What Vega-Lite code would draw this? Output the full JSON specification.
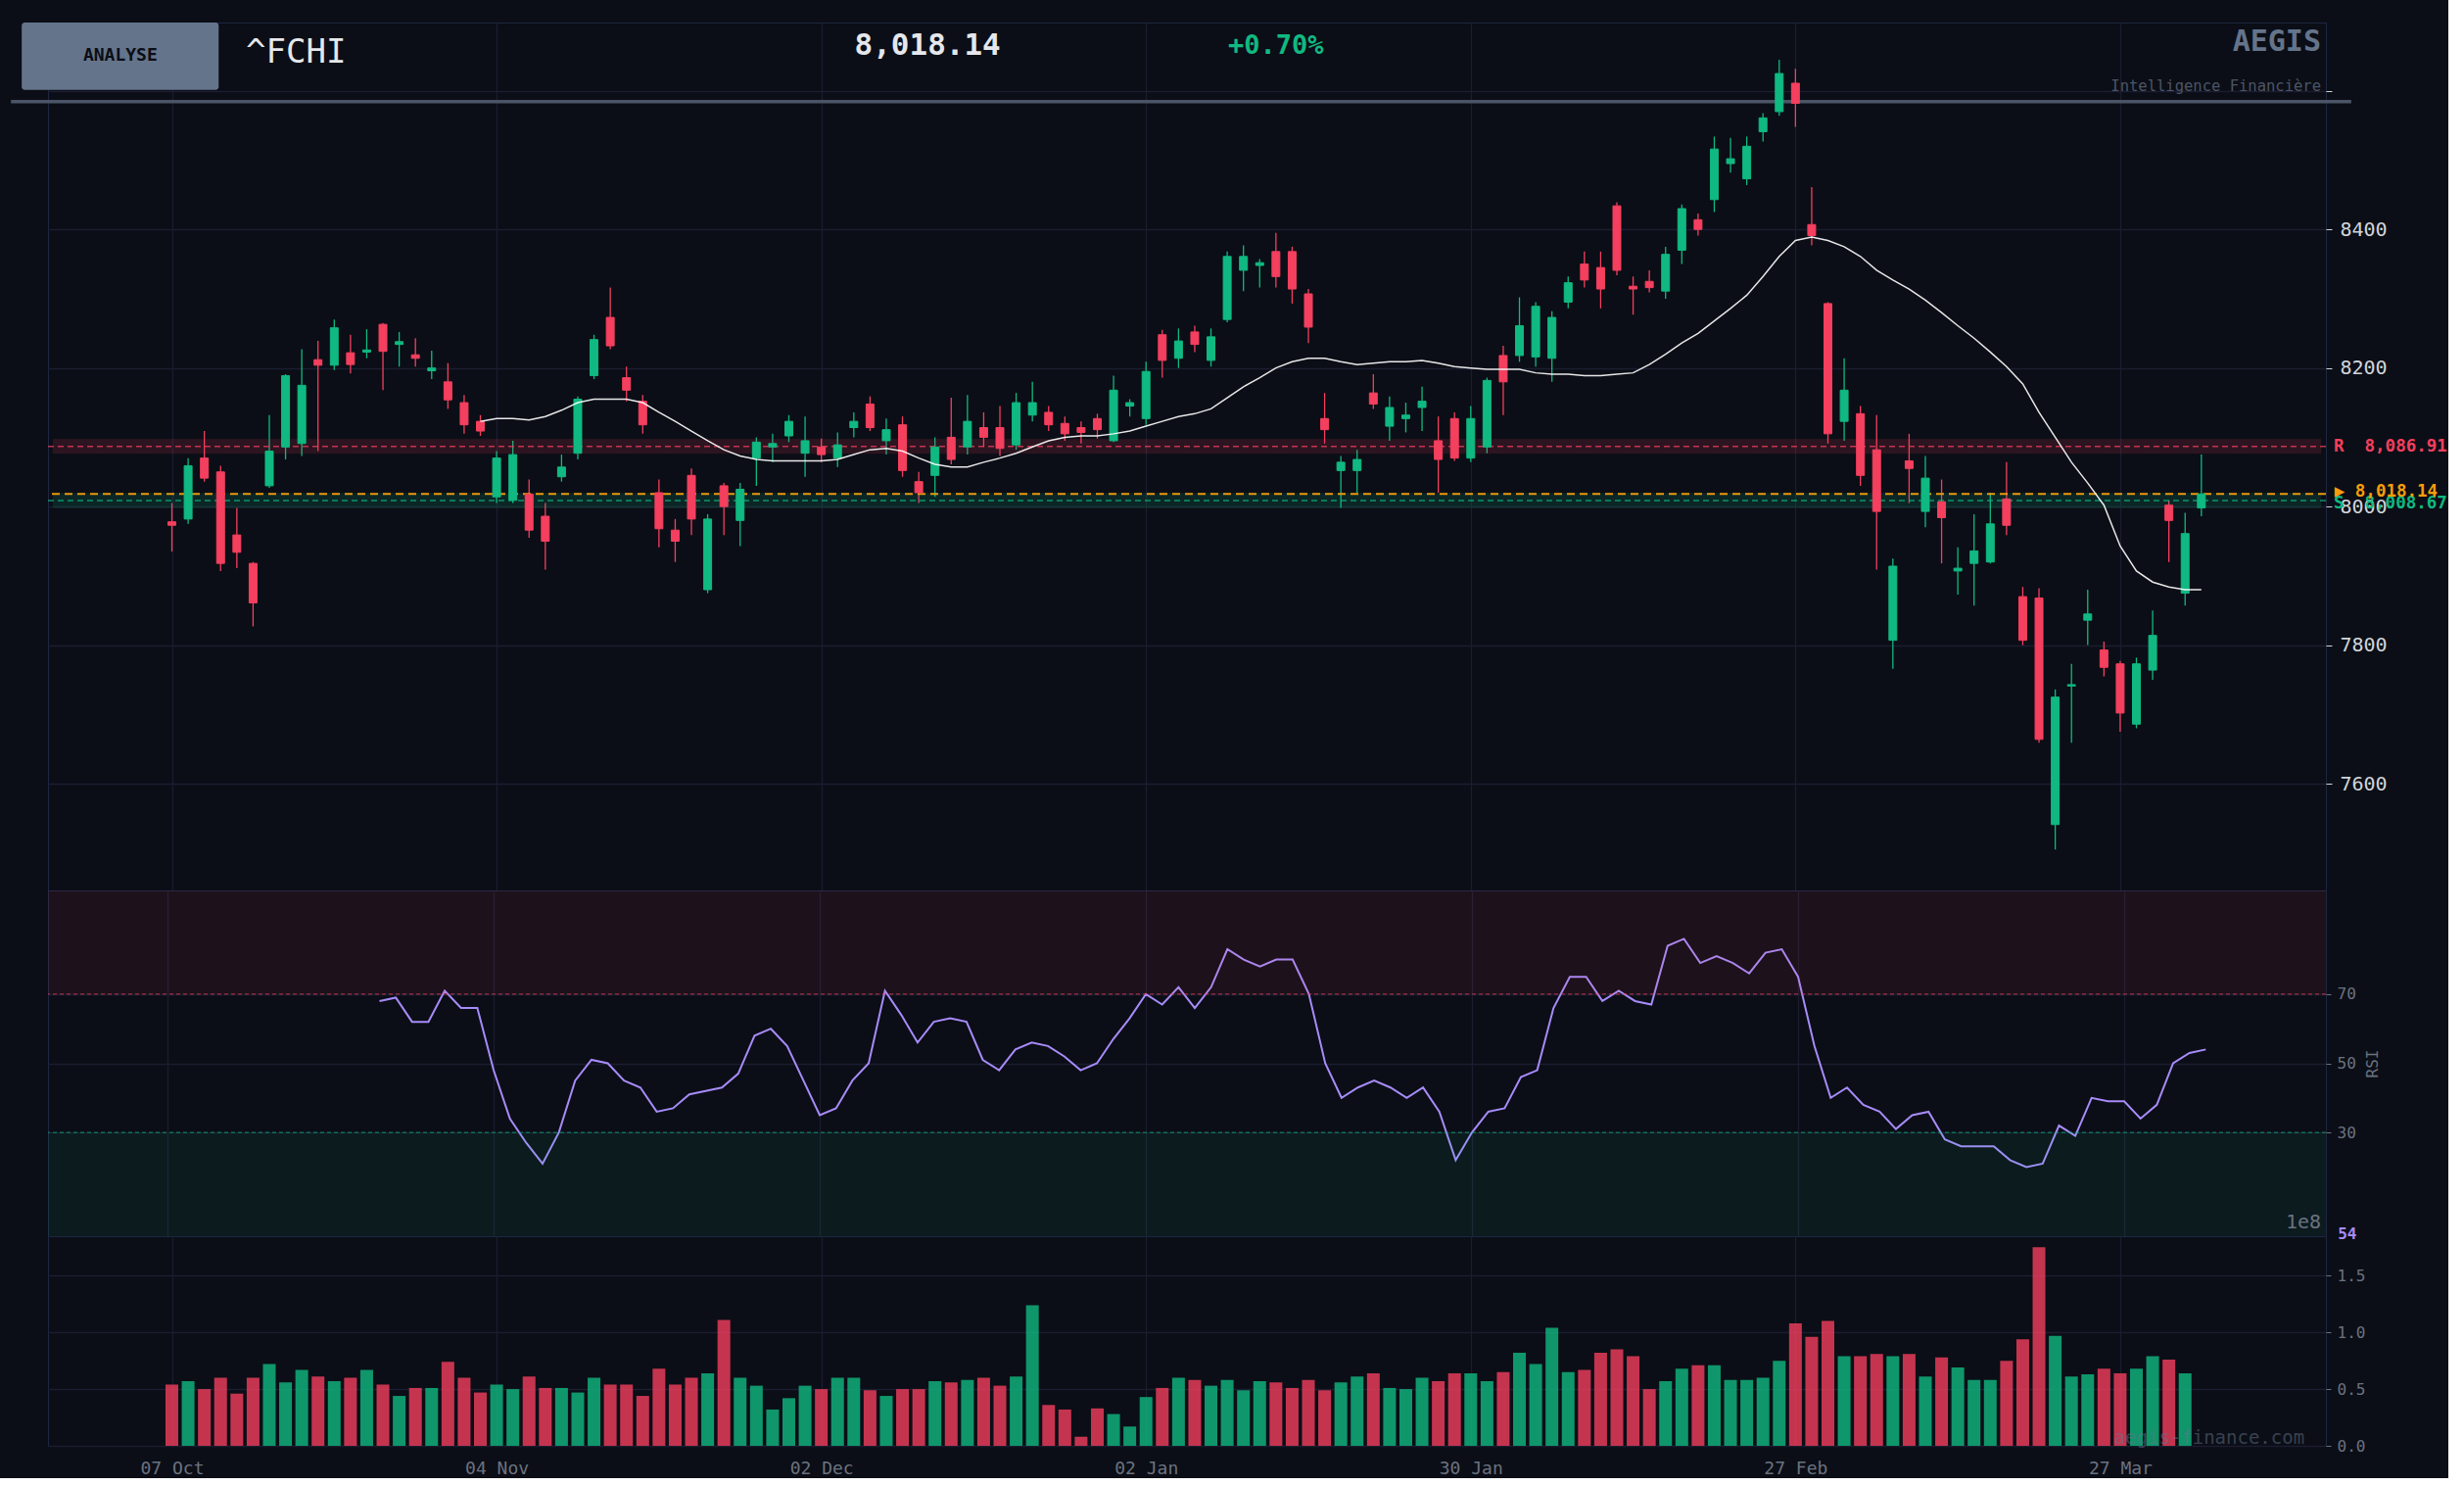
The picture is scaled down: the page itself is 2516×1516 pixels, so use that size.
{
"$schema": "https://vega.github.io/schema/vega-lite/v6.json",
"background": "#0b0e16",
"padding": {"left": 8, "top": 22, "right": 0, "bottom": 0},
"spacing": 0,
"bounds": "flush",
"config": {
  "font": "DejaVu Sans Mono",
  "view": {"stroke": "#1e2742", "fill": "#0b0e16"},
  "axis": {"labelFont": "DejaVu Sans Mono", "titleFont": "DejaVu Sans Mono", "gridColor": "#1b1d30", "gridWidth": 1.3, "domain": false, "tickColor": "#9ca3af"},
  "text": {"font": "DejaVu Sans Mono"}
},
"datasets": {
"ohlc": [
{"i":0,"o":7978,"h":8005,"l":7935,"c":7973,"v":54000000,"ma":null,"rsi":null},
{"i":1,"o":7982,"h":8070,"l":7975,"c":8059,"v":57000000,"ma":null,"rsi":null},
{"i":2,"o":8070,"h":8109,"l":8036,"c":8041,"v":50000000,"ma":null,"rsi":null},
{"i":3,"o":8050,"h":8059,"l":7907,"c":7918,"v":60000000,"ma":null,"rsi":null},
{"i":4,"o":7959,"h":7998,"l":7911,"c":7934,"v":46000000,"ma":null,"rsi":null},
{"i":5,"o":7918,"h":7920,"l":7827,"c":7861,"v":60000000,"ma":null,"rsi":null},
{"i":6,"o":8030,"h":8132,"l":8027,"c":8080,"v":72000000,"ma":null,"rsi":null},
{"i":7,"o":8086,"h":8191,"l":8068,"c":8189,"v":56000000,"ma":null,"rsi":null},
{"i":8,"o":8091,"h":8227,"l":8073,"c":8175,"v":67000000,"ma":null,"rsi":null},
{"i":9,"o":8212,"h":8239,"l":8080,"c":8204,"v":61000000,"ma":null,"rsi":null},
{"i":10,"o":8204,"h":8270,"l":8197,"c":8258,"v":57000000,"ma":null,"rsi":null},
{"i":11,"o":8222,"h":8248,"l":8192,"c":8205,"v":60000000,"ma":null,"rsi":null},
{"i":12,"o":8223,"h":8256,"l":8214,"c":8226,"v":67000000,"ma":null,"rsi":null},
{"i":13,"o":8263,"h":8265,"l":8168,"c":8224,"v":54000000,"ma":null,"rsi":68},
{"i":14,"o":8234,"h":8252,"l":8202,"c":8238,"v":44000000,"ma":null,"rsi":69},
{"i":15,"o":8219,"h":8243,"l":8202,"c":8214,"v":51000000,"ma":null,"rsi":62},
{"i":16,"o":8196,"h":8225,"l":8184,"c":8200,"v":51000000,"ma":null,"rsi":62},
{"i":17,"o":8180,"h":8207,"l":8141,"c":8154,"v":74000000,"ma":null,"rsi":71},
{"i":18,"o":8150,"h":8161,"l":8105,"c":8118,"v":60000000,"ma":null,"rsi":66},
{"i":19,"o":8123,"h":8132,"l":8102,"c":8109,"v":47000000,"ma":8123,"rsi":66},
{"i":20,"o":8014,"h":8080,"l":8005,"c":8070,"v":54000000,"ma":8127,"rsi":48},
{"i":21,"o":8009,"h":8095,"l":8005,"c":8075,"v":50000000,"ma":8127,"rsi":34},
{"i":22,"o":8018,"h":8039,"l":7955,"c":7966,"v":61000000,"ma":8125,"rsi":27},
{"i":23,"o":7986,"h":8005,"l":7909,"c":7950,"v":51000000,"ma":8130,"rsi":21},
{"i":24,"o":8043,"h":8075,"l":8036,"c":8057,"v":51000000,"ma":8139,"rsi":30},
{"i":25,"o":8077,"h":8159,"l":8068,"c":8155,"v":47000000,"ma":8150,"rsi":45},
{"i":26,"o":8189,"h":8248,"l":8184,"c":8241,"v":60000000,"ma":8155,"rsi":51},
{"i":27,"o":8273,"h":8316,"l":8227,"c":8232,"v":54000000,"ma":8155,"rsi":50},
{"i":28,"o":8186,"h":8202,"l":8152,"c":8168,"v":54000000,"ma":8155,"rsi":45},
{"i":29,"o":8152,"h":8161,"l":8105,"c":8118,"v":44000000,"ma":8150,"rsi":43},
{"i":30,"o":8020,"h":8039,"l":7941,"c":7968,"v":68000000,"ma":8136,"rsi":36},
{"i":31,"o":7966,"h":7982,"l":7920,"c":7950,"v":54000000,"ma":8123,"rsi":37},
{"i":32,"o":8045,"h":8055,"l":7959,"c":7982,"v":60000000,"ma":8109,"rsi":41},
{"i":33,"o":7880,"h":7989,"l":7875,"c":7982,"v":64000000,"ma":8095,"rsi":42},
{"i":34,"o":8030,"h":8034,"l":7959,"c":8000,"v":111000000,"ma":8082,"rsi":43},
{"i":35,"o":7980,"h":8034,"l":7943,"c":8025,"v":60000000,"ma":8073,"rsi":47},
{"i":36,"o":8070,"h":8100,"l":8030,"c":8093,"v":53000000,"ma":8068,"rsi":58},
{"i":37,"o":8086,"h":8105,"l":8064,"c":8091,"v":32000000,"ma":8066,"rsi":60},
{"i":38,"o":8102,"h":8132,"l":8093,"c":8123,"v":42000000,"ma":8066,"rsi":55},
{"i":39,"o":8077,"h":8130,"l":8043,"c":8095,"v":53000000,"ma":8066,"rsi":45},
{"i":40,"o":8086,"h":8098,"l":8064,"c":8075,"v":50000000,"ma":8066,"rsi":35},
{"i":41,"o":8070,"h":8107,"l":8057,"c":8089,"v":60000000,"ma":8068,"rsi":37},
{"i":42,"o":8114,"h":8136,"l":8100,"c":8123,"v":60000000,"ma":8075,"rsi":45},
{"i":43,"o":8148,"h":8159,"l":8109,"c":8114,"v":49000000,"ma":8082,"rsi":50},
{"i":44,"o":8095,"h":8127,"l":8075,"c":8111,"v":44000000,"ma":8084,"rsi":71},
{"i":45,"o":8118,"h":8130,"l":8043,"c":8052,"v":50000000,"ma":8080,"rsi":64},
{"i":46,"o":8036,"h":8050,"l":8005,"c":8020,"v":50000000,"ma":8070,"rsi":56},
{"i":47,"o":8045,"h":8100,"l":8014,"c":8086,"v":57000000,"ma":8061,"rsi":62},
{"i":48,"o":8100,"h":8157,"l":8061,"c":8068,"v":56000000,"ma":8057,"rsi":63},
{"i":49,"o":8086,"h":8161,"l":8075,"c":8123,"v":58000000,"ma":8057,"rsi":62},
{"i":50,"o":8114,"h":8136,"l":8086,"c":8100,"v":60000000,"ma":8064,"rsi":51},
{"i":51,"o":8114,"h":8145,"l":8073,"c":8084,"v":53000000,"ma":8070,"rsi":48},
{"i":52,"o":8089,"h":8164,"l":8082,"c":8150,"v":61000000,"ma":8077,"rsi":54},
{"i":53,"o":8132,"h":8180,"l":8123,"c":8150,"v":124000000,"ma":8086,"rsi":56},
{"i":54,"o":8136,"h":8145,"l":8109,"c":8118,"v":36000000,"ma":8095,"rsi":55},
{"i":55,"o":8120,"h":8130,"l":8095,"c":8105,"v":32000000,"ma":8100,"rsi":52},
{"i":56,"o":8114,"h":8123,"l":8091,"c":8107,"v":8000000,"ma":8102,"rsi":48},
{"i":57,"o":8127,"h":8134,"l":8098,"c":8111,"v":33000000,"ma":8102,"rsi":50},
{"i":58,"o":8095,"h":8189,"l":8093,"c":8168,"v":28000000,"ma":8105,"rsi":57},
{"i":59,"o":8145,"h":8155,"l":8130,"c":8150,"v":17000000,"ma":8109,"rsi":63},
{"i":60,"o":8127,"h":8209,"l":8118,"c":8195,"v":43000000,"ma":8116,"rsi":70},
{"i":61,"o":8248,"h":8255,"l":8186,"c":8211,"v":51000000,"ma":8123,"rsi":67},
{"i":62,"o":8214,"h":8257,"l":8200,"c":8239,"v":60000000,"ma":8130,"rsi":72},
{"i":63,"o":8252,"h":8261,"l":8223,"c":8234,"v":58000000,"ma":8134,"rsi":66},
{"i":64,"o":8211,"h":8257,"l":8202,"c":8245,"v":53000000,"ma":8141,"rsi":72},
{"i":65,"o":8270,"h":8368,"l":8266,"c":8361,"v":58000000,"ma":8157,"rsi":83},
{"i":66,"o":8341,"h":8377,"l":8311,"c":8361,"v":49000000,"ma":8173,"rsi":80},
{"i":67,"o":8348,"h":8357,"l":8316,"c":8352,"v":57000000,"ma":8186,"rsi":78},
{"i":68,"o":8368,"h":8395,"l":8316,"c":8332,"v":56000000,"ma":8200,"rsi":80},
{"i":69,"o":8368,"h":8375,"l":8293,"c":8314,"v":51000000,"ma":8209,"rsi":80},
{"i":70,"o":8307,"h":8314,"l":8236,"c":8259,"v":58000000,"ma":8214,"rsi":70},
{"i":71,"o":8127,"h":8164,"l":8091,"c":8111,"v":49000000,"ma":8214,"rsi":50},
{"i":72,"o":8052,"h":8073,"l":7998,"c":8064,"v":56000000,"ma":8209,"rsi":40},
{"i":73,"o":8052,"h":8082,"l":8020,"c":8068,"v":61000000,"ma":8205,"rsi":43},
{"i":74,"o":8164,"h":8191,"l":8141,"c":8148,"v":64000000,"ma":8207,"rsi":45},
{"i":75,"o":8116,"h":8159,"l":8095,"c":8143,"v":51000000,"ma":8209,"rsi":43},
{"i":76,"o":8127,"h":8150,"l":8107,"c":8132,"v":50000000,"ma":8209,"rsi":40},
{"i":77,"o":8143,"h":8173,"l":8109,"c":8152,"v":60000000,"ma":8211,"rsi":43},
{"i":78,"o":8095,"h":8130,"l":8020,"c":8068,"v":57000000,"ma":8207,"rsi":36},
{"i":79,"o":8127,"h":8136,"l":8066,"c":8070,"v":64000000,"ma":8202,"rsi":22},
{"i":80,"o":8070,"h":8145,"l":8064,"c":8127,"v":64000000,"ma":8200,"rsi":30},
{"i":81,"o":8086,"h":8186,"l":8077,"c":8182,"v":57000000,"ma":8198,"rsi":36},
{"i":82,"o":8218,"h":8232,"l":8132,"c":8180,"v":65000000,"ma":8198,"rsi":37},
{"i":83,"o":8218,"h":8302,"l":8209,"c":8261,"v":82000000,"ma":8198,"rsi":46},
{"i":84,"o":8216,"h":8295,"l":8202,"c":8289,"v":72000000,"ma":8193,"rsi":48},
{"i":85,"o":8214,"h":8282,"l":8180,"c":8273,"v":104000000,"ma":8191,"rsi":66},
{"i":86,"o":8295,"h":8332,"l":8286,"c":8323,"v":65000000,"ma":8191,"rsi":75},
{"i":87,"o":8350,"h":8368,"l":8316,"c":8327,"v":67000000,"ma":8189,"rsi":75},
{"i":88,"o":8345,"h":8368,"l":8286,"c":8314,"v":82000000,"ma":8189,"rsi":68},
{"i":89,"o":8434,"h":8439,"l":8334,"c":8341,"v":85000000,"ma":8191,"rsi":71},
{"i":90,"o":8318,"h":8332,"l":8277,"c":8314,"v":79000000,"ma":8193,"rsi":68},
{"i":91,"o":8325,"h":8341,"l":8309,"c":8316,"v":50000000,"ma":8205,"rsi":67},
{"i":92,"o":8311,"h":8375,"l":8300,"c":8364,"v":57000000,"ma":8220,"rsi":84},
{"i":93,"o":8370,"h":8436,"l":8350,"c":8430,"v":68000000,"ma":8236,"rsi":86},
{"i":94,"o":8414,"h":8423,"l":8391,"c":8400,"v":71000000,"ma":8250,"rsi":79},
{"i":95,"o":8443,"h":8534,"l":8425,"c":8516,"v":71000000,"ma":8268,"rsi":81},
{"i":96,"o":8495,"h":8532,"l":8482,"c":8502,"v":58000000,"ma":8286,"rsi":79},
{"i":97,"o":8473,"h":8534,"l":8464,"c":8520,"v":58000000,"ma":8305,"rsi":76},
{"i":98,"o":8541,"h":8568,"l":8527,"c":8561,"v":60000000,"ma":8332,"rsi":82},
{"i":99,"o":8570,"h":8645,"l":8564,"c":8625,"v":75000000,"ma":8361,"rsi":83},
{"i":100,"o":8611,"h":8632,"l":8548,"c":8582,"v":108000000,"ma":8384,"rsi":75},
{"i":101,"o":8407,"h":8461,"l":8377,"c":8391,"v":96000000,"ma":8389,"rsi":55},
{"i":102,"o":8293,"h":8295,"l":8091,"c":8105,"v":110000000,"ma":8384,"rsi":40},
{"i":103,"o":8123,"h":8214,"l":8095,"c":8168,"v":79000000,"ma":8375,"rsi":43},
{"i":104,"o":8134,"h":8145,"l":8030,"c":8045,"v":79000000,"ma":8361,"rsi":38},
{"i":105,"o":8082,"h":8132,"l":7909,"c":7993,"v":81000000,"ma":8341,"rsi":36},
{"i":106,"o":7807,"h":7925,"l":7766,"c":7914,"v":79000000,"ma":8327,"rsi":31},
{"i":107,"o":8066,"h":8105,"l":8005,"c":8055,"v":81000000,"ma":8314,"rsi":35},
{"i":108,"o":7993,"h":8073,"l":7970,"c":8041,"v":61000000,"ma":8298,"rsi":36},
{"i":109,"o":8007,"h":8039,"l":7918,"c":7984,"v":78000000,"ma":8280,"rsi":28},
{"i":110,"o":7907,"h":7941,"l":7873,"c":7911,"v":69000000,"ma":8261,"rsi":26},
{"i":111,"o":7918,"h":7989,"l":7857,"c":7936,"v":58000000,"ma":8243,"rsi":26},
{"i":112,"o":7920,"h":8020,"l":7918,"c":7975,"v":58000000,"ma":8223,"rsi":26},
{"i":113,"o":8011,"h":8064,"l":7959,"c":7973,"v":75000000,"ma":8202,"rsi":22},
{"i":114,"o":7870,"h":7884,"l":7800,"c":7807,"v":94000000,"ma":8177,"rsi":20},
{"i":115,"o":7868,"h":7882,"l":7659,"c":7664,"v":175000000,"ma":8136,"rsi":21},
{"i":116,"o":7541,"h":7736,"l":7505,"c":7725,"v":97000000,"ma":8100,"rsi":32},
{"i":117,"o":7741,"h":7773,"l":7659,"c":7743,"v":61000000,"ma":8064,"rsi":29},
{"i":118,"o":7836,"h":7880,"l":7800,"c":7845,"v":63000000,"ma":8034,"rsi":40},
{"i":119,"o":7793,"h":7805,"l":7755,"c":7768,"v":68000000,"ma":8002,"rsi":39},
{"i":120,"o":7773,"h":7777,"l":7675,"c":7702,"v":64000000,"ma":7943,"rsi":39},
{"i":121,"o":7686,"h":7782,"l":7680,"c":7773,"v":68000000,"ma":7907,"rsi":34},
{"i":122,"o":7764,"h":7850,"l":7750,"c":7814,"v":79000000,"ma":7891,"rsi":38},
{"i":123,"o":8002,"h":8009,"l":7920,"c":7980,"v":76000000,"ma":7884,"rsi":50},
{"i":124,"o":7875,"h":7991,"l":7857,"c":7961,"v":64000000,"ma":7880,"rsi":53},
{"i":125,"o":7998,"h":8075,"l":7986,"c":8018.14,"v":0,"ma":7880,"rsi":54}
]
},
"vconcat": [
{
  "width": 2326, "height": 886,
  "data": {"name": "ohlc"},
  "layer": [
    {"mark": {"type": "rule", "strokeWidth": 1.3},
     "encoding": {
       "x": {"field": "i", "type": "quantitative", "scale": {"domain": [-7.33, 132.37], "nice": false, "zero": false}, "axis": {"values": [0,20,40,60,80,100,120], "labels": false, "ticks": false, "domain": false, "grid": true, "title": null}},
       "y": {"field": "l", "type": "quantitative", "scale": {"domain": [7446, 8698.6], "nice": false, "zero": false}, "axis": {"orient": "right", "values": [7600,7800,8000,8200,8400,8600], "format": "d", "labelExpr": "datum.value >= 8600 ? '' : datum.label", "labelFontSize": 20, "labelColor": "#d1d5db", "tickColor": "#d1d5db", "tickSize": 6, "labelPadding": 8, "grid": true, "title": null}},
       "y2": {"field": "h"},
       "color": {"condition": {"test": "datum.c >= datum.o", "value": "#10b981"}, "value": "#f43f5e"}
     }},
    {"data": {"values": [{}]}, "mark": {"type": "rect", "color": "#f43f5e", "opacity": 0.14, "stroke": "#f43f5e", "strokeOpacity": 0.35, "strokeWidth": 1},
     "encoding": {"x": {"datum": -7.33}, "x2": {"datum": 132.37}, "y": {"datum": 8076.4}, "y2": {"datum": 8097.4}}},
    {"data": {"values": [{}]}, "mark": {"type": "rect", "color": "#10b981", "opacity": 0.14, "stroke": "#10b981", "strokeOpacity": 0.35, "strokeWidth": 1},
     "encoding": {"x": {"datum": -7.33}, "x2": {"datum": 132.37}, "y": {"datum": 7998.2}, "y2": {"datum": 8019.2}}},
    {"data": {"values": [{}]}, "mark": {"type": "rule", "color": "#f43f5e", "opacity": 0.75, "strokeWidth": 1.5, "strokeDash": [6, 4]},
     "encoding": {"y": {"datum": 8086.91}}},
    {"data": {"values": [{}]}, "mark": {"type": "rule", "color": "#10b981", "opacity": 0.75, "strokeWidth": 1.5, "strokeDash": [6, 4]},
     "encoding": {"y": {"datum": 8008.67}}},
    {"data": {"values": [{}]}, "mark": {"type": "rule", "color": "#f59e0b", "opacity": 0.95, "strokeWidth": 2, "strokeDash": [8, 5]},
     "encoding": {"y": {"datum": 8018.14}}},
    {"data": {"values": [{}]}, "mark": {"type": "rule", "color": "#4b5567", "strokeWidth": 3.5},
     "encoding": {"x": {"datum": -9.914}, "x2": {"datum": 134.23}, "y": {"datum": 8584.3}}},
    {"data": {"values": [{}]}, "mark": {"type": "rect", "color": "#64748b", "cornerRadius": 3},
     "encoding": {"x": {"datum": -9.25}, "x2": {"datum": 2.88}, "y": {"datum": 8698.6}, "y2": {"datum": 8601.3}}},
    {"data": {"values": [{}]}, "mark": {"type": "text", "text": "ANALYSE", "align": "center", "baseline": "middle", "fontSize": 18, "fontWeight": "bold", "color": "#0b0e16"},
     "encoding": {"x": {"datum": -3.18}, "y": {"datum": 8650.4}}},
    {"data": {"values": [{}]}, "mark": {"type": "text", "text": "^FCHI", "align": "left", "baseline": "middle", "fontSize": 34, "color": "#e5e7eb"},
     "encoding": {"x": {"datum": 4.56}, "y": {"datum": 8655.3}}},
    {"data": {"values": [{}]}, "mark": {"type": "text", "text": "8,018.14", "align": "left", "baseline": "middle", "fontSize": 31, "fontWeight": "bold", "color": "#e5e7eb"},
     "encoding": {"x": {"datum": 42.04}, "y": {"datum": 8665.2}}},
    {"data": {"values": [{}]}, "mark": {"type": "text", "text": "+0.70%", "align": "left", "baseline": "middle", "fontSize": 27, "fontWeight": "bold", "color": "#10b981"},
     "encoding": {"x": {"datum": 65.05}, "y": {"datum": 8664.5}}},
    {"data": {"values": [{}]}, "mark": {"type": "text", "text": "AEGIS", "align": "right", "baseline": "middle", "fontSize": 30, "fontWeight": "bold", "color": "#64748b"},
     "encoding": {"x": {"datum": 132.37}, "y": {"datum": 8670.9}}},
    {"data": {"values": [{}]}, "mark": {"type": "text", "text": "Intelligence Financière", "align": "right", "baseline": "middle", "fontSize": 15.5, "color": "#4b5567"},
     "encoding": {"x": {"datum": 132.37}, "y": {"datum": 8607.2}}},
    {"mark": {"type": "bar", "width": 8, "strokeWidth": 1},
     "encoding": {
       "x": {"field": "i", "type": "quantitative"},
       "y": {"field": "o", "type": "quantitative"},
       "y2": {"field": "c"},
       "color": {"condition": {"test": "datum.c >= datum.o", "value": "#10b981"}, "value": "#f43f5e"},
       "stroke": {"condition": {"test": "datum.c >= datum.o", "value": "#10b981"}, "value": "#f43f5e"}
     }},
    {"mark": {"type": "line", "color": "#ffffff", "strokeWidth": 1.5, "opacity": 0.9},
     "encoding": {
       "x": {"field": "i", "type": "quantitative"},
       "y": {"field": "ma", "type": "quantitative"}
     }},
    {"data": {"values": [{}]}, "mark": {"type": "text", "text": "R\u00a0\u00a08,086.91", "align": "left", "baseline": "middle", "fontSize": 17.5, "fontWeight": "bold", "color": "#f43f5e"},
     "encoding": {"x": {"datum": 133.15}, "y": {"datum": 8086.91}}},
    {"data": {"values": [{}]}, "mark": {"type": "text", "text": "S\u00a0\u00a08,008.67", "align": "left", "baseline": "middle", "fontSize": 17.5, "fontWeight": "bold", "color": "#10b981"},
     "encoding": {"x": {"datum": 133.15}, "y": {"datum": 8004.5}}},
    {"data": {"values": [{}]}, "mark": {"type": "text", "text": "▶\u00a08,018.14", "align": "left", "baseline": "middle", "fontSize": 17.5, "fontWeight": "bold", "color": "#f59e0b"},
     "encoding": {"x": {"datum": 133.2}, "y": {"datum": 8021}}}
  ]
},
{
  "width": 2326, "height": 353,
  "data": {"name": "ohlc"},
  "layer": [
    {"mark": {"type": "line", "color": "#a78bfa", "strokeWidth": 2},
     "encoding": {
       "x": {"field": "i", "type": "quantitative", "scale": {"domain": [-7.33, 132.37], "nice": false, "zero": false}, "axis": {"values": [0,20,40,60,80,100,120], "labels": false, "ticks": false, "domain": false, "grid": true, "title": null}},
       "y": {"field": "rsi", "type": "quantitative", "scale": {"domain": [0, 100], "nice": false, "zero": false}, "axis": {"orient": "right", "values": [30, 50, 70], "labelFontSize": 16, "labelColor": "#6b7280", "tickColor": "#6b7280", "tickSize": 5, "labelPadding": 6, "grid": true, "title": "RSI", "titleColor": "#6b7280", "titleFontSize": 16, "titleFontWeight": "normal", "titleAngle": 270, "titlePadding": 25}}
     }},
    {"data": {"values": [{}]}, "mark": {"type": "rect", "color": "#f43f5e", "opacity": 0.08},
     "encoding": {"x": {"datum": -7.33}, "x2": {"datum": 132.37}, "y": {"datum": 70}, "y2": {"datum": 100}}},
    {"data": {"values": [{}]}, "mark": {"type": "rect", "color": "#10b981", "opacity": 0.08},
     "encoding": {"x": {"datum": -7.33}, "x2": {"datum": 132.37}, "y": {"datum": 0}, "y2": {"datum": 30}}},
    {"data": {"values": [{}]}, "mark": {"type": "rule", "color": "#f43f5e", "opacity": 0.6, "strokeWidth": 1.3, "strokeDash": [4, 3]},
     "encoding": {"y": {"datum": 70}}},
    {"data": {"values": [{}]}, "mark": {"type": "rule", "color": "#10b981", "opacity": 0.6, "strokeWidth": 1.3, "strokeDash": [4, 3]},
     "encoding": {"y": {"datum": 30}}},
    {"data": {"values": [{}]}, "mark": {"type": "text", "text": "54", "align": "left", "baseline": "middle", "fontSize": 16, "fontWeight": "bold", "color": "#a78bfa"},
     "encoding": {"x": {"datum": 133.1}, "y": {"datum": 0.5}}}
  ]
},
{
  "width": 2326, "height": 214,
  "data": {"name": "ohlc"},
  "layer": [
    {"mark": {"type": "bar", "width": 13, "opacity": 0.8},
     "encoding": {
       "x": {"field": "i", "type": "quantitative", "scale": {"domain": [-7.33, 132.37], "nice": false, "zero": false}, "axis": {"values": [0,20,40,60,80,100,120], "labelExpr": "['07 Oct','04 Nov','02 Dec','02 Jan','30 Jan','27 Feb','27 Mar'][round(datum.value/20)]", "labelFontSize": 18, "labelColor": "#6b7280", "ticks": false, "labelPadding": 14, "labelFlush": false, "labelOverlap": false, "domain": false, "grid": true, "title": null}},
       "y": {"field": "v", "type": "quantitative", "scale": {"domain": [0, 184800000], "nice": false, "zero": false}, "axis": {"orient": "right", "values": [0, 50000000, 100000000, 150000000], "labelExpr": "format(datum.value / 1e8, '.1f')", "labelFontSize": 16, "labelColor": "#6b7280", "tickColor": "#6b7280", "tickSize": 5, "labelPadding": 6, "grid": true, "title": null}},
       "color": {"condition": {"test": "datum.c >= datum.o", "value": "#10b981"}, "value": "#f43f5e"}
     }},
    {"data": {"values": [{}]}, "mark": {"type": "text", "text": "1e8", "align": "right", "baseline": "bottom", "fontSize": 20, "color": "#6b7280", "dy": -4},
     "encoding": {"x": {"datum": 132.37}, "y": {"datum": 184800000}}},
    {"data": {"values": [{}]}, "mark": {"type": "text", "text": "aegis-finance.com", "align": "right", "baseline": "middle", "fontSize": 19, "color": "#64748b", "opacity": 0.5},
     "encoding": {"x": {"datum": 131.35}, "y": {"datum": 6600000}}}
  ]
}
]
}
